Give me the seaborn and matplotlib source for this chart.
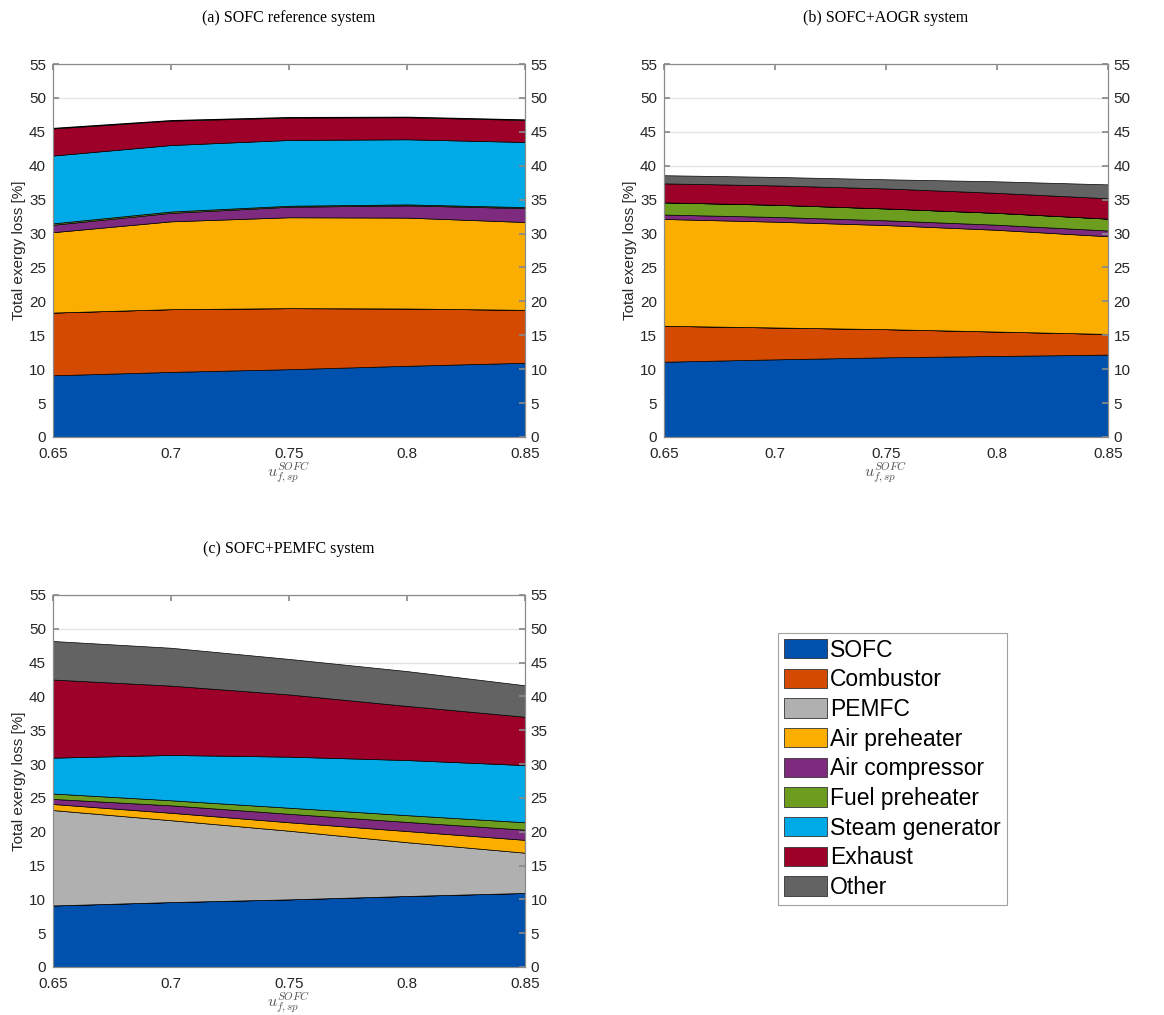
import matplotlib
matplotlib.use("Agg")
import matplotlib.pyplot as plt
from matplotlib.patches import Patch
import numpy as np
import seaborn as sns

# Fuel utilisation set-points
u_f = [0.65, 0.70, 0.75, 0.80, 0.85]

components = ["SOFC", "Combustor", "PEMFC", "Air preheater", "Air compressor",
              "Fuel preheater", "Steam generator", "Exhaust", "Other"]
colors = ["#0051ad", "#d34a00", "#b0b0b0", "#fbae00", "#7e2a7f",
          "#6c9d1f", "#00aae6", "#9d0028", "#636363"]

# (a) SOFC reference system: exergy loss per component [%]
ref_sofc = [9.1, 9.6, 10.0, 10.5, 10.95]
ref_combustor = [9.25, 9.25, 9.0, 8.45, 7.8]
ref_pemfc = [0, 0, 0, 0, 0]
ref_air_preheater = [11.85, 12.95, 13.4, 13.4, 12.95]
ref_air_compressor = [1.1, 1.25, 1.55, 1.8, 2.05]
ref_fuel_preheater = [0.2, 0.2, 0.15, 0.15, 0.15]
ref_steam_generator = [10.0, 9.8, 9.7, 9.6, 9.6]
ref_exhaust = [4.0, 3.6, 3.3, 3.25, 3.25]
ref_other = [0.1, 0.1, 0.1, 0.1, 0.1]

# (b) SOFC+AOGR system
aogr_sofc = [11.1, 11.45, 11.75, 11.95, 12.15]
aogr_combustor = [5.3, 4.7, 4.15, 3.6, 3.05]
aogr_pemfc = [0, 0, 0, 0, 0]
aogr_air_preheater = [15.75, 15.6, 15.35, 15.0, 14.4]
aogr_air_compressor = [0.65, 0.7, 0.7, 0.75, 0.85]
aogr_fuel_preheater = [1.8, 1.8, 1.75, 1.75, 1.75]
aogr_steam_generator = [0, 0, 0, 0, 0]
aogr_exhaust = [2.8, 2.85, 2.95, 2.95, 3.0]
aogr_other = [1.2, 1.25, 1.35, 1.7, 2.05]

# (c) SOFC+PEMFC system
pem_sofc = [9.1, 9.6, 10.0, 10.5, 10.95]
pem_combustor = [0, 0, 0, 0, 0]
pem_pemfc = [14.1, 12.1, 10.15, 7.95, 5.95]
pem_air_preheater = [0.9, 1.1, 1.25, 1.65, 1.9]
pem_air_compressor = [0.75, 1.1, 1.25, 1.35, 1.5]
pem_fuel_preheater = [0.8, 0.75, 0.9, 1.0, 1.1]
pem_steam_generator = [5.3, 6.7, 7.55, 8.15, 8.45]
pem_exhaust = [11.55, 10.25, 9.2, 8.0, 7.15]
pem_other = [5.7, 5.6, 5.25, 5.15, 4.65]

panels = [
    ("(a) SOFC reference system",
     [ref_sofc, ref_combustor, ref_pemfc, ref_air_preheater, ref_air_compressor,
      ref_fuel_preheater, ref_steam_generator, ref_exhaust, ref_other]),
    ("(b) SOFC+AOGR system",
     [aogr_sofc, aogr_combustor, aogr_pemfc, aogr_air_preheater, aogr_air_compressor,
      aogr_fuel_preheater, aogr_steam_generator, aogr_exhaust, aogr_other]),
    ("(c) SOFC+PEMFC system",
     [pem_sofc, pem_combustor, pem_pemfc, pem_air_preheater, pem_air_compressor,
      pem_fuel_preheater, pem_steam_generator, pem_exhaust, pem_other]),
]

sns.set_theme(style="white")
plt.rcParams["font.family"] = ["Liberation Sans", "DejaVu Sans"]
plt.rcParams["mathtext.fontset"] = "cm"

W, H = 1164, 1015
fig = plt.figure(figsize=(W / 100, H / 100), dpi=100)

# axes boxes in pixels: left, top, right, bottom
boxes = [(53, 64, 525, 437), (664, 64, 1108, 437), (53, 595, 525, 967)]

yticks = np.arange(0, 56, 5)
xticks = [0.65, 0.70, 0.75, 0.80, 0.85]
xticklabels = ["0.65", "0.7", "0.75", "0.8", "0.85"]
spine_col = "#8a8a8a"
text_col = "#262626"

for (title, layers), (l, t, r, b) in zip(panels, boxes):
    ax = fig.add_axes([l / W, 1 - b / H, (r - l) / W, (b - t) / H])
    ax.stackplot(u_f, *layers, colors=colors, edgecolor="black", linewidth=0.5)
    ax.set_xlim(0.65, 0.85)
    ax.set_ylim(0, 55)
    ax.set_xticks(xticks)
    ax.set_xticklabels(xticklabels)
    ax.set_yticks(yticks)
    ax.yaxis.grid(True, color="#e4e4e4", linewidth=1.0)
    ax.set_axisbelow(True)
    ax.tick_params(direction="in", length=4, color=spine_col, labelsize=11,
                   labelcolor=text_col, top=True)
    ax.tick_params(axis="x", pad=7)
    ax.tick_params(axis="y", pad=5)
    for s in ax.spines.values():
        s.set_color(spine_col)
        s.set_linewidth(0.8)
    ax.set_ylabel("Total exergy loss [%]", fontsize=11, color=text_col, labelpad=2)
    ax.set_xlabel(r"$u_{f,sp}^{SOFC}$", fontsize=11.5, color="#555555", labelpad=0)
    ax.set_title(title, fontsize=11.5, family="Liberation Serif", color="black", pad=30)

    ax2 = ax.twinx()
    ax2.set_ylim(0, 55)
    ax2.set_yticks(yticks)
    ax2.tick_params(direction="in", length=4, color=spine_col, labelsize=11,
                    labelcolor=text_col, pad=4)
    for s in ax2.spines.values():
        s.set_color(spine_col)
        s.set_linewidth(0.8)

handles = [Patch(facecolor=c, edgecolor="#333333", linewidth=0.6) for c in colors]
leg = fig.legend(handles, components, loc="upper left",
                 bbox_to_anchor=(778 / W, 1 - 633 / H), fontsize=16.5,
                 frameon=True, fancybox=False, borderpad=0.25, labelspacing=0.29,
                 handlelength=1.9, handleheight=0.92, handletextpad=0.12,
                 borderaxespad=0)
leg.get_frame().set_edgecolor("#8a8a8a")
leg.get_frame().set_linewidth(0.8)
for txt in leg.get_texts():
    txt.set_color("black")

fig.savefig("out.png", dpi=100, facecolor="white")
